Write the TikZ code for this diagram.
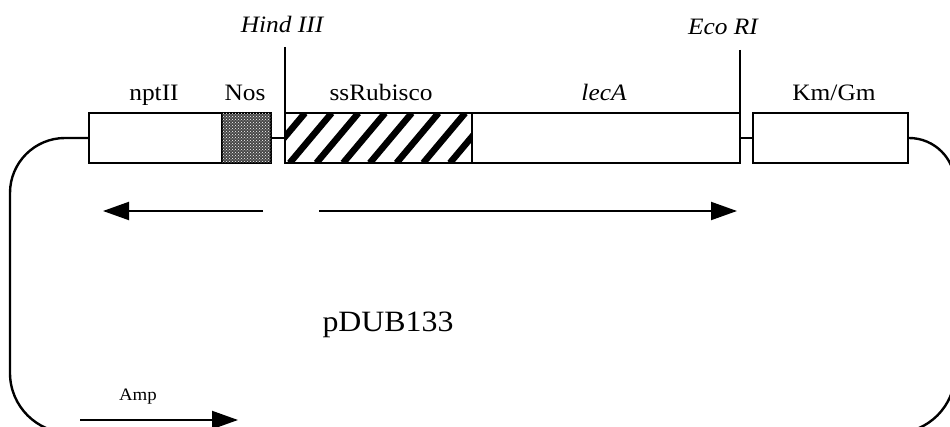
\documentclass[tikz,border=0pt]{standalone}
\usepackage{fontspec}
\setmainfont{Liberation Serif}[FakeStretch=1.08]
\usetikzlibrary{arrows.meta,patterns}
\begin{document}
\begin{tikzpicture}[x=1pt,y=1pt,
  genebox/.style={draw=black,line width=2.6pt,rectangle,inner sep=0pt,outer sep=0pt,minimum height=50pt,anchor=north west,fill=white},
  loopline/.style={line width=2.4pt},
  siteline/.style={line width=2.2pt},
  dirarrow/.style={line width=2pt,-{Triangle[length=26pt,width=18pt]}},
  lbl/.style={anchor=base,inner sep=0pt,font=\fontsize{23.5}{26}\selectfont},
  sitelbl/.style={anchor=base,inner sep=0pt,font=\fontsize{23.5}{26}\selectfont\itshape}]
\useasboundingbox (0,0) rectangle (950,-427);
\clip (0,0) rectangle (950,-427);
% boxes
\node[genebox,minimum width=133pt] (npt) at (89,-113) {};
\node[genebox,minimum width=49pt,fill=black!72,postaction={pattern=crosshatch dots,pattern color=white}] (nos) at (222,-113) {};
\node[genebox,minimum width=187pt] (ss) at (285,-113) {};
\node[genebox,minimum width=268pt] (lec) at (472,-113) {};
\node[genebox,minimum width=155pt] (km) at (753,-113) {};
% hatching of ssRubisco
\begin{scope}
  \clip (ss.south west) rectangle (ss.north east);
  \foreach \i in {-2,...,8}
    \draw[line width=6.5pt] ({263+26.7*\i},-163) -- ({263+26.7*\i+42},-113);
\end{scope}
\node[genebox,minimum width=187pt,fill=none] at (285,-113) {};
% connectors between boxes
\draw[siteline] (nos.east) -- (ss.west);
\draw[siteline] (lec.east) -- (km.west);
% restriction sites
\coordinate (hindtop) at (285,-47);
\coordinate (ecotop) at (740,-50);
\draw[siteline] (hindtop) -- (ss.north west);
\draw[siteline] (ecotop) -- (lec.north east);
\node[sitelbl] (hind) at (282,-33) {Hind III};
\node[sitelbl] (eco) at (723,-35) {Eco RI};
% plasmid loop
\draw[loopline] (npt.west) -- (65,-138) arc[start angle=90,end angle=180,radius=55]
  -- (10,-373) arc[start angle=180,end angle=270,radius=60]
  -- (895,-433) arc[start angle=270,end angle=360,radius=60]
  -- (955,-184) arc[start angle=0,end angle=90,radius=46] -- (km.east);
% labels
\node[lbl] (lnpt) at (154,-101) {nptII};
\node[lbl] (lnos) at (245,-101) {Nos};
\node[lbl] (lss) at (381,-101) {ssRubisco};
\node[lbl] (llec) at (604,-101) {\itshape lecA};
\node[lbl] (lkm) at (834,-101) {Km/Gm};
\node[anchor=base,inner sep=0pt,font=\fontsize{29.5}{32}\selectfont] (plasmid) at (388,-332) {pDUB133};
\node[anchor=base,inner sep=0pt,font=\fontsize{17.5}{20}\selectfont] (amp) at (138,-400) {Amp};
% direction arrows
\coordinate (a1s) at (263,-211);
\coordinate (a1e) at (103,-211);
\coordinate (a2s) at (319,-211);
\coordinate (a2e) at (737,-211);
\coordinate (a3s) at (80,-420);
\coordinate (a3e) at (238,-420);
\draw[dirarrow] (a1s) -- (a1e);
\draw[dirarrow] (a2s) -- (a2e);
\draw[dirarrow] (a3s) -- (a3e);
\end{tikzpicture}
\end{document}
